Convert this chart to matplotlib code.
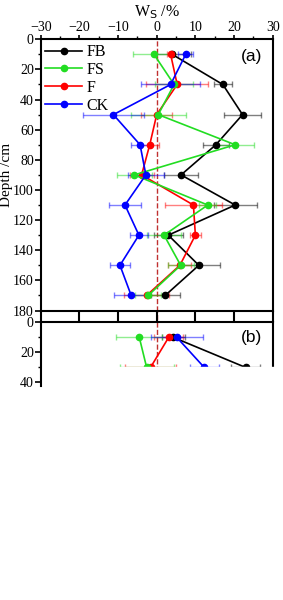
import matplotlib
matplotlib.use("Agg")
import matplotlib.pyplot as plt
from matplotlib.patches import Rectangle
from matplotlib.ticker import MultipleLocator

plt.rcParams["font.family"] = ["Liberation Serif", "DejaVu Serif"]

depth_a = [10, 30, 50, 70, 90, 110, 130, 150, 170]
depth_b = [10, 30]

labels = ["FB", "FS", "F", "CK"]
colors = ["black", "#22dd22", "red", "blue"]

# panel (a)
fb_a = [4.0, 17.1, 22.2, 15.3, 6.3, 20.3, 3.0, 10.9, 2.2]
fb_a_err = [5.0, 2.3, 4.8, 3.4, 4.4, 5.6, 3.7, 5.4, 3.8]
fs_a = [-0.7, 4.5, 0.4, 20.3, -5.8, 13.2, 1.9, 6.2, -2.2]
fs_a_err = [5.3, 5.0, 7.1, 4.8, 4.5, 2.2, 4.5, 3.4, 3.4]
f_a = [3.6, 5.3, 0.0, -1.8, -3.9, 9.5, 10.0, 6.0, -2.6]
f_a_err = [1.0, 8.0, 4.0, 2.3, 3.1, 7.4, 1.4, 3.0, 5.8]
ck_a = [7.5, 3.6, -11.2, -4.3, -2.8, -8.2, -4.6, -9.5, -6.6]
ck_a_err = [2.0, 7.7, 7.8, 2.4, 4.6, 4.1, 2.4, 2.6, 4.5]

# panel (b)
fb_b = [4.3, 23.0]
fb_b_err = [3.0, 3.7]
fs_b = [-4.5, -2.6]
fs_b_err = [5.9, 7.0]
f_b = [3.1, -1.6]
f_b_err = [3.8, 6.6]
ck_b = [5.2, 12.3]
ck_b_err = [6.7, 3.7]

fig = plt.figure(figsize=(2.83, 6.0), dpi=100)
ax_a = fig.add_axes([0.1438, 0.4825, 0.8198, 0.452])
ax_b = fig.add_axes([0.1438, 0.3575, 0.8198, 0.1053])


def draw_panel(ax, depth, series, errs):
    handles = []
    for i in [0, 2, 1, 3]:
        ax.errorbar(series[i], depth, xerr=errs[i], fmt="none", ecolor=colors[i],
                    elinewidth=1.0, capsize=2.5, capthick=1.0, alpha=0.5, zorder=2)
    for i in [0, 2, 1, 3]:
        h, = ax.plot(series[i], depth, "-o", color=colors[i], lw=1.2, ms=4.5,
                     label=labels[i], zorder=3)
        handles.append((i, h))
    handles.sort()
    return [h for _, h in handles]


handles = draw_panel(ax_a, depth_a, [fb_a, fs_a, f_a, ck_a],
                     [fb_a_err, fs_a_err, f_a_err, ck_a_err])
draw_panel(ax_b, depth_b, [fb_b, fs_b, f_b, ck_b],
           [fb_b_err, fs_b_err, f_b_err, ck_b_err])

for ax in (ax_a, ax_b):
    ax.set_xlim(-30, 30)
    ax.xaxis.set_major_locator(MultipleLocator(10))
    ax.yaxis.set_minor_locator(MultipleLocator(10))
    for s in ax.spines.values():
        s.set_linewidth(1.5)
    ax.tick_params(axis="y", which="major", direction="out", length=4, width=1.2,
                   labelsize=10, pad=1)
    ax.tick_params(axis="y", which="minor", direction="out", length=2.5, width=1.0)
    ax.tick_params(axis="y", right=False)

ax_a.set_ylim(180, 0)
ax_a.yaxis.set_major_locator(MultipleLocator(20))
ax_a.xaxis.set_minor_locator(MultipleLocator(5))
ax_a.tick_params(axis="x", which="both", top=True, bottom=False, labeltop=True,
                 labelbottom=False, direction="out", labelsize=10, pad=1)
ax_a.tick_params(axis="x", which="major", length=3, width=1.2)
ax_a.tick_params(axis="x", which="minor", length=2, width=1.0)
ax_a.xaxis.set_label_position("top")
ax_a.set_xlabel("W$_\\mathrm{S}$ /%", fontsize=11.5, labelpad=3)
ax_a.set_ylabel("Depth /cm", fontsize=11, labelpad=0)
ax_a.axvline(0, color="#c03030", ls="--", lw=1.0, zorder=1)
ax_a.text(0.955, 0.935, "(a)", transform=ax_a.transAxes, ha="right", va="center",
          fontsize=12.5, family="Liberation Sans")
ax_a.legend(handles=handles, loc="upper left", frameon=False, fontsize=11.5,
            handlelength=2.3, handletextpad=0.25, labelspacing=0.12,
            borderaxespad=0.1, borderpad=0.2, bbox_to_anchor=(0.0, 1.0))

ax_b.set_ylim(42, 0)
ax_b.yaxis.set_major_locator(MultipleLocator(20))
ax_b.spines["bottom"].set_visible(False)
ax_b.tick_params(axis="x", which="major", top=True, bottom=False, labeltop=False,
                 labelbottom=False, direction="out", length=8, width=1.5)
ax_b.axvline(0, ymin=0, ymax=1.18, color="#c03030", ls="--", lw=1.0, zorder=1,
             clip_on=False)
ax_b.text(0.955, 0.76, "(b)", transform=ax_b.transAxes, ha="right", va="center",
          fontsize=12.5, family="Liberation Sans")

# the source picture is cropped just below the second panel
fig.patches.append(Rectangle((42.5 / 283, 0), 1, 1 - 367 / 600,
                             transform=fig.transFigure, color="white", zorder=10))

fig.savefig("out.png", dpi=100)
